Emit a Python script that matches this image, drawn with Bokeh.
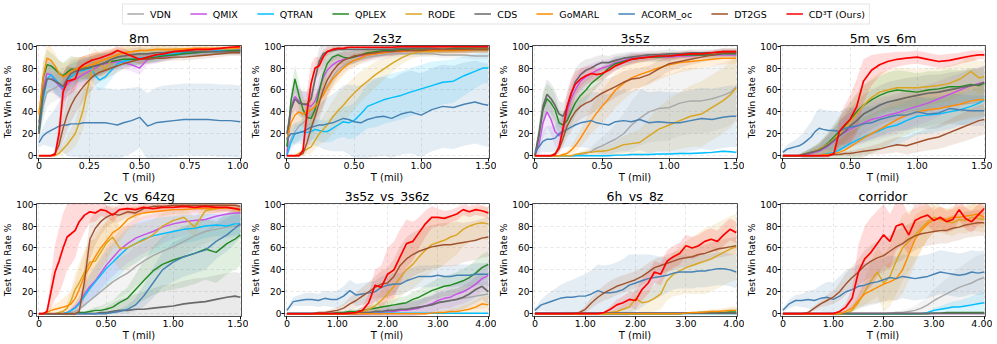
from bokeh.plotting import figure
from bokeh.layouts import column, row
from bokeh.models import Range1d, FixedTicker, Legend, LegendItem
from bokeh.embed import file_html
from bokeh.resources import INLINE

NAMES = ["VDN", "QMIX", "QTRAN", "QPLEX", "RODE", "CDS", "GoMARL", "ACORM_oc", "DT2GS", "CD³T (Ours)"]
COLORS = ["#a9a9a9", "#c953e8", "#00bfff", "#228b22", "#daa520", "#696969", "#ff8c00", "#4682b4", "#a0522d", "#ff0000"]
FONT = "DejaVu Sans"

# ---------------- 8m ----------------
X_8M = [0, .02, .04, .06, .08, .10, .12, .14, .16, .18, .20, .22, .24, .26, .28, .30, .33, .36, .39, .42,
        .46, .50, .54, .58, .62, .67, .72, .78, .84, .90, .95, 1.0]
M_8M = {
    "VDN": [20, 45, 58, 60, 62, 64, 68, 70, 72, 74, 76, 77, 79, 80, 82, 84, 86, 87, 88, 89, 90, 90, 91, 92, 93, 94, 94, 95, 95, 96, 96, 96],
    "QMIX": [30, 60, 75, 74, 68, 64, 60, 65, 68, 70, 72, 74, 76, 78, 80, 82, 84, 85, 86, 85, 83, 80, 88, 89, 90, 92, 93, 94, 95, 96, 96, 97],
    "QTRAN": [22, 50, 70, 74, 70, 66, 62, 68, 72, 75, 77, 78, 79, 80, 73, 69, 72, 78, 84, 86, 88, 89, 90, 91, 92, 93, 94, 95, 95, 96, 96, 96],
    "QPLEX": [24, 70, 83, 82, 79, 75, 73, 76, 79, 79, 80, 80, 80, 81, 82, 83, 85, 86, 87, 88, 88, 88, 89, 90, 91, 92, 93, 94, 95, 95, 96, 96],
    "RODE": [0, 0, 0, 0, 0, 2, 6, 10, 15, 20, 30, 42, 60, 76, 86, 84, 79, 88, 92, 94, 95, 96, 96, 97, 97, 97, 97, 97, 97, 97.5, 97.5, 98],
    "CDS": [20, 55, 70, 70, 68, 66, 63, 70, 75, 77, 78, 79, 80, 81, 82, 83, 85, 88, 90, 91, 92, 93, 93, 94, 94, 95, 95, 95, 95, 95, 95, 95],
    "GoMARL": [38, 70, 89, 87, 82, 75, 72, 74, 77, 79, 80, 81, 82, 83, 84, 86, 88, 90, 92, 94, 95, 96, 96, 97, 97, 97, 97.5, 98, 98, 98, 98.5, 98.5],
    "ACORM_oc": [12, 18, 21, 23, 25, 27, 28, 28, 29, 29, 29, 30, 30, 30, 30, 30, 30, 29, 28, 30, 32, 35, 27, 30, 31, 32, 33, 33, 33, 32, 32, 31],
    "DT2GS": [0, 0, 0, 0, 2, 10, 25, 37, 46, 53, 58, 63, 67, 71, 74, 76, 78, 80, 82, 84, 86, 88, 88, 89, 89, 90, 90, 91, 92, 93, 94, 94],
    "CD³T (Ours)": [0, 0, 0, 0, 1, 20, 58, 68, 69, 70, 80, 83, 85, 87, 88, 89, 91, 93, 96, 94, 91, 88, 90, 92, 93, 95, 96, 97, 97, 98, 99, 99.5],
}
SD8_A = [8, 15, 14, 12, 12, 12, 12, 12, 12, 11, 10, 10, 10, 10, 10, 10, 9, 8, 7, 6, 6, 6, 5, 5, 4, 4, 3, 3, 3, 3, 3, 3]
SD8_RODE = [0, 0, 0, 0, 0, 2, 5, 8, 10, 12, 15, 18, 20, 18, 12, 10, 10, 8, 6, 5, 4, 3, 3, 3, 3, 2, 2, 2, 2, 2, 2, 2]
SD8_DT = [0, 0, 0, 0, 2, 8, 12, 14, 15, 15, 14, 13, 12, 11, 10, 9, 8, 7, 6, 5, 5, 4, 4, 4, 3, 3, 3, 3, 3, 3, 3, 3]
SD8_RED = [0, 0, 0, 0, 2, 15, 18, 14, 12, 10, 9, 8, 7, 6, 6, 5, 5, 4, 4, 4, 4, 5, 4, 3, 3, 3, 2, 2, 2, 1, 1, 1]
SD8_AC = [5, 8, 12, 15, 18, 22, 25, 28, 30, 30, 31, 32, 33, 33, 33, 32, 32, 32, 32, 31, 30, 28, 30, 32, 33, 33, 33, 33, 33, 33, 33, 33]
S_8M = {"VDN": SD8_A, "QMIX": SD8_A, "QTRAN": SD8_A, "QPLEX": SD8_A, "RODE": SD8_RODE, "CDS": SD8_A,
        "GoMARL": SD8_A, "ACORM_oc": SD8_AC, "DT2GS": SD8_DT, "CD³T (Ours)": SD8_RED}

# ---------------- shared x for 1.5 mil panels ----------------
X_15 = [0, .03, .06, .09, .12, .15, .18, .21, .24, .27, .30, .34, .38, .42, .46, .50, .55, .60, .66, .72,
        .78, .85, .92, 1.0, 1.08, 1.16, 1.24, 1.32, 1.40, 1.46, 1.5]

# ---------------- 2s3z ----------------
M_2S3Z = {
    "VDN": [5, 15, 22, 27, 30, 33, 38, 44, 50, 58, 64, 72, 78, 82, 85, 87, 89, 90, 91, 92, 93, 93, 93, 93, 93, 92, 92, 92, 91, 91, 91],
    "QMIX": [0, 45, 54, 50, 47, 46, 45, 50, 61, 71, 78, 83, 86, 88, 89, 90, 91, 92, 93, 94, 95, 95, 96, 96, 97, 97, 97, 97, 98, 98, 98],
    "QTRAN": [0, 12, 20, 21, 22, 21, 22, 24, 23, 22, 22, 25, 28, 31, 30, 32, 38, 45, 48, 51, 53, 55, 58, 61, 64, 67, 68, 73, 77, 80, 80],
    "QPLEX": [8, 50, 70, 55, 42, 35, 34, 42, 58, 74, 84, 90, 92, 90, 89, 90, 92, 94, 95, 96, 96, 97, 97, 97, 97, 97, 98, 98, 98, 98, 98],
    "RODE": [0, 0, 0, 2, 4, 6, 8, 14, 20, 24, 28, 35, 41, 46, 52, 57, 63, 68, 74, 79, 84, 89, 93, 95, 95, 96, 96, 97, 97, 97, 97],
    "CDS": [20, 42, 52, 48, 47, 47, 52, 70, 86, 93, 95, 96, 97, 97, 97, 97, 97, 97, 97, 97, 97, 98, 98, 98, 98, 97, 97, 97, 97, 97, 97],
    "GoMARL": [15, 30, 37, 40, 38, 40, 42, 45, 50, 55, 62, 70, 75, 80, 84, 87, 89, 92, 93, 94, 95, 95, 96, 96, 96, 96, 96, 96, 97, 97, 97],
    "ACORM_oc": [15, 20, 20, 21, 22, 24, 26, 27, 28, 28, 29, 30, 32, 34, 33, 31, 30, 33, 35, 36, 34, 38, 40, 37, 42, 45, 44, 47, 49, 47, 46],
    "DT2GS": [0, 0, 0, 0, 2, 12, 25, 36, 48, 60, 69, 77, 83, 87, 89, 91, 92, 93, 94, 95, 95, 96, 96, 96, 97, 97, 97, 97, 97, 97, 97],
    "CD³T (Ours)": [0, 0, 0, 0, 5, 40, 66, 80, 82, 90, 95, 97, 98, 98, 99, 99, 99, 99, 99, 99, 99, 99.5, 99.5, 99.5, 99.5, 99.5, 99.5, 99.5, 99.5, 99.5, 99.5],
}
SD_2S3Z_A = [5, 10, 12, 12, 12, 12, 12, 12, 12, 12, 10, 9, 8, 7, 6, 6, 5, 5, 4, 4, 4, 3, 3, 3, 3, 3, 3, 3, 3, 3, 3]
SD_2S3Z_RODE = [0, 0, 0, 2, 4, 5, 6, 8, 10, 12, 14, 15, 16, 16, 15, 15, 14, 13, 12, 10, 8, 6, 5, 4, 4, 3, 3, 3, 3, 3, 3]
SD_2S3Z_QT = [0, 5, 8, 8, 8, 8, 8, 9, 10, 10, 10, 12, 12, 14, 15, 16, 18, 20, 22, 22, 22, 22, 22, 22, 22, 20, 20, 18, 16, 14, 14]
SD_2S3Z_AC = [5, 8, 10, 10, 12, 14, 16, 18, 20, 22, 24, 26, 28, 30, 32, 33, 34, 35, 36, 36, 36, 37, 38, 38, 38, 38, 38, 38, 38, 38, 38]
SD_2S3Z_RED = [0, 0, 0, 0, 3, 20, 18, 10, 8, 6, 4, 3, 2, 2, 2, 1, 1, 1, 1, 1, 1, 1, 1, 1, 1, 1, 1, 1, 1, 1, 1]
SD_2S3Z_DT = [0, 0, 0, 0, 2, 8, 12, 15, 16, 16, 14, 12, 10, 8, 7, 6, 5, 5, 4, 4, 4, 3, 3, 3, 3, 3, 3, 3, 3, 3, 3]
S_2S3Z = {"VDN": SD_2S3Z_A, "QMIX": SD_2S3Z_A, "QTRAN": SD_2S3Z_QT, "QPLEX": SD_2S3Z_A, "RODE": SD_2S3Z_RODE,
          "CDS": SD_2S3Z_A, "GoMARL": SD_2S3Z_A, "ACORM_oc": SD_2S3Z_AC, "DT2GS": SD_2S3Z_DT, "CD³T (Ours)": SD_2S3Z_RED}

# ---------------- 3s5z ----------------
M_3S5Z = {
    "VDN": [0, 0, 0, 0, 0, 0, 0, 0, 0, 0, 0, 1, 2, 4, 7, 9, 12, 15, 20, 28, 34, 40, 43, 44, 48, 50, 50, 52, 55, 58, 63],
    "QMIX": [0, 10, 30, 40, 33, 22, 18, 24, 40, 52, 60, 68, 72, 75, 78, 80, 82, 85, 87, 89, 90, 90, 90, 90, 91, 91, 92, 92, 92, 92, 92],
    "QTRAN": [0, 0, 0, 0, 0, 0, 0, 0, 0, 0, 0, 0, 0, 0, 0, 0, 0, 0.5, 0.5, 1, 1, 1, 1.5, 1.5, 2, 2, 2.5, 3, 4, 3.5, 3],
    "QPLEX": [0, 18, 42, 52, 48, 42, 30, 28, 32, 40, 48, 55, 60, 66, 70, 74, 80, 84, 86, 88, 89, 90, 90, 91, 92, 92, 92, 92, 93, 93, 93],
    "RODE": [0, 0, 0, 0, 0, 0, 0, 0, 0, 0, 1, 2, 3, 3, 4, 4, 5, 7, 10, 11, 12, 18, 24, 28, 32, 36, 38, 44, 50, 56, 62],
    "CDS": [0, 20, 45, 56, 52, 46, 38, 36, 44, 56, 67, 74, 78, 80, 83, 85, 85, 87, 89, 90, 91, 92, 92, 93, 93, 94, 94, 94, 95, 95, 95],
    "GoMARL": [0, 0, 0, 0, 0, 0, 0, 1, 2, 5, 9, 16, 24, 32, 39, 45, 52, 60, 66, 71, 74, 77, 80, 83, 85, 86, 87, 88, 89, 89, 89],
    "ACORM_oc": [3, 8, 13, 15, 15, 16, 20, 22, 24, 26, 28, 30, 31, 32, 30, 29, 28, 31, 32, 31, 33, 30, 31, 30, 30, 32, 34, 33, 35, 36, 36],
    "DT2GS": [0, 0, 0, 0, 0, 2, 6, 16, 27, 34, 40, 45, 48, 50, 54, 57, 60, 63, 67, 70, 71, 74, 79, 84, 86, 88, 90, 92, 94, 94, 94],
    "CD³T (Ours)": [0, 0, 0, 0, 0, 1, 8, 25, 45, 57, 65, 70, 73, 75, 74, 75, 78, 82, 85, 88, 89, 90, 91, 91, 92, 93, 93, 94, 95, 95, 95],
}
SD_3S5Z_A = [2, 10, 14, 14, 14, 14, 12, 12, 12, 12, 12, 11, 10, 9, 8, 7, 6, 6, 5, 5, 4, 4, 4, 4, 3, 3, 3, 3, 3, 3, 3]
SD_3S5Z_RED = [0, 0, 0, 0, 0, 1, 5, 12, 14, 14, 12, 10, 8, 7, 6, 6, 5, 5, 4, 4, 4, 3, 3, 3, 3, 3, 2, 2, 2, 2, 2]
SD_3S5Z_DT = [0, 0, 0, 0, 0, 2, 4, 8, 10, 12, 12, 12, 12, 12, 12, 12, 11, 10, 10, 9, 9, 8, 8, 7, 6, 5, 5, 4, 4, 4, 4]
SD_3S5Z_GO = [0, 0, 0, 0, 0, 0, 0, 1, 2, 4, 6, 8, 10, 12, 14, 15, 16, 16, 15, 14, 13, 12, 11, 10, 9, 8, 7, 6, 6, 5, 5]
SD_3S5Z_VDN = [0, 0, 0, 0, 0, 0, 0, 0, 0, 0, 0, 1, 2, 4, 6, 8, 10, 14, 18, 22, 25, 28, 30, 30, 30, 30, 30, 30, 30, 30, 30]
SD_3S5Z_RODE = [0, 0, 0, 0, 0, 0, 0, 0, 0, 0, 1, 2, 3, 3, 4, 4, 5, 6, 8, 10, 12, 16, 20, 24, 26, 28, 30, 30, 30, 30, 30]
SD_3S5Z_AC = [2, 6, 10, 12, 12, 12, 14, 15, 16, 18, 20, 22, 24, 26, 28, 28, 28, 28, 28, 28, 28, 28, 28, 28, 28, 28, 28, 28, 28, 28, 28]
SD_3S5Z_QT = [0, 0, 0, 0, 0, 0, 0, 0, 0, 0, 0, 0, 0, 0, 0, 1, 1, 1, 1, 1, 1, 1, 1, 1, 1, 1, 1, 1, 1, 1, 1]
S_3S5Z = {"VDN": SD_3S5Z_VDN, "QMIX": SD_3S5Z_A, "QTRAN": SD_3S5Z_QT, "QPLEX": SD_3S5Z_A, "RODE": SD_3S5Z_RODE,
          "CDS": SD_3S5Z_A, "GoMARL": SD_3S5Z_GO, "ACORM_oc": SD_3S5Z_AC, "DT2GS": SD_3S5Z_DT, "CD³T (Ours)": SD_3S5Z_RED}

# ---------------- 5m_vs_6m ----------------
M_5M6M = {
    "VDN": [0, 0, 0, 0, 0, 0, 1, 2, 3, 4, 6, 8, 12, 16, 20, 23, 26, 29, 31, 33, 35, 37, 40, 42, 44, 45, 46, 47, 48, 49, 50],
    "QMIX": [0, 0, 0, 0, 0, 0, 1, 2, 3, 4, 6, 9, 13, 18, 21, 24, 27, 30, 33, 35, 37, 39, 42, 45, 48, 52, 56, 60, 64, 66, 67],
    "QTRAN": [0, 0, 0, 0, 0, 0, 0, 0, 0, 0, 1, 2, 3, 5, 8, 11, 14, 17, 20, 23, 26, 28, 32, 36, 37, 38, 40, 42, 45, 48, 51],
    "QPLEX": [0, 0, 0, 0, 0, 1, 2, 3, 4, 6, 8, 12, 17, 22, 27, 33, 40, 46, 51, 55, 58, 60, 59, 58, 60, 61, 63, 63, 65, 64, 66],
    "RODE": [0, 0, 0, 0, 0, 1, 2, 3, 5, 6, 8, 11, 15, 20, 25, 30, 38, 46, 53, 58, 60, 62, 62, 62, 63, 64, 66, 70, 77, 71, 72],
    "CDS": [0, 0, 0, 0, 0, 1, 2, 3, 4, 5, 7, 10, 14, 18, 22, 27, 32, 38, 42, 46, 49, 51, 53, 55, 57, 58, 60, 62, 64, 65, 67],
    "GoMARL": [0, 0, 0, 0, 0, 0, 0, 0, 0, 0, 1, 1, 2, 3, 5, 8, 12, 16, 20, 24, 28, 33, 37, 40, 42, 43, 45, 47, 50, 51, 51],
    "ACORM_oc": [3, 6, 7, 8, 9, 11, 14, 17, 22, 25, 24, 23, 23, 22, 25, 26, 27, 29, 30, 33, 35, 37, 37, 40, 38, 39, 43, 42, 41, 41, 41],
    "DT2GS": [0, 0, 0, 0, 0, 0, 0, 0, 0, 0, 0, 0, 1, 1, 2, 2, 3, 4, 5, 6, 8, 10, 9, 12, 15, 17, 21, 25, 29, 32, 33],
    "CD³T (Ours)": [0, 0, 0, 0, 0, 0, 0, 0, 0, 0, 0, 0, 2, 22, 28, 33, 45, 68, 78, 83, 86, 88, 89, 90, 88, 86, 87, 89, 91, 92, 92],
}
SD_5M_A = [1, 1, 1, 1, 1, 2, 3, 4, 5, 6, 8, 10, 12, 14, 15, 16, 17, 18, 18, 18, 18, 18, 18, 17, 17, 16, 16, 15, 15, 15, 15]
SD_5M_RED = [0, 0, 0, 0, 0, 0, 0, 0, 0, 0, 0, 0, 2, 12, 18, 22, 25, 20, 14, 10, 8, 7, 6, 6, 6, 6, 6, 5, 5, 4, 4]
SD_5M_AC = [2, 4, 5, 6, 8, 10, 12, 14, 16, 18, 18, 18, 18, 18, 18, 18, 16, 16, 15, 15, 14, 14, 14, 14, 14, 14, 14, 14, 14, 14, 14]
SD_5M_DT = [0, 0, 0, 0, 0, 0, 0, 0, 0, 0, 0, 0, 1, 1, 2, 2, 3, 3, 4, 5, 6, 7, 8, 9, 10, 11, 12, 13, 14, 14, 14]
S_5M6M = {"VDN": SD_5M_A, "QMIX": SD_5M_A, "QTRAN": SD_5M_A, "QPLEX": SD_5M_A, "RODE": SD_5M_A,
          "CDS": SD_5M_A, "GoMARL": SD_5M_A, "ACORM_oc": SD_5M_AC, "DT2GS": SD_5M_DT, "CD³T (Ours)": SD_5M_RED}

# ---------------- 2c_vs_64zg ----------------
M_2C = {
    "VDN": [0, 0, 0, 0, 0, 0, 0, 0, 1, 2, 4, 8, 12, 16, 20, 24, 29, 33, 37, 43, 48, 53, 57, 61, 66, 71, 75, 77, 79, 80, 80],
    "QMIX": [0, 0, 0, 0, 0, 0, 0, 1, 3, 6, 10, 18, 25, 30, 37, 44, 51, 58, 64, 69, 72, 75, 79, 82, 84, 85, 86, 89, 91, 92, 92],
    "QTRAN": [0, 0, 0, 0, 0, 0, 0, 1, 3, 5, 9, 16, 23, 29, 35, 41, 47, 53, 60, 64, 68, 71, 73, 75, 77, 78, 80, 81, 80, 82, 82],
    "QPLEX": [0, 0, 0, 0, 0, 0, 0, 0, 0, 0, 1, 1, 2, 3, 3, 4, 6, 10, 14, 22, 30, 39, 45, 49, 52, 55, 59, 56, 64, 68, 72],
    "RODE": [0, 0, 0, 0, 0, 1, 2, 5, 12, 22, 28, 38, 47, 48, 56, 64, 70, 60, 60, 64, 67, 72, 80, 85, 88, 79, 94, 96, 97, 96, 95],
    "CDS": [0, 0, 0, 0, 0, 0, 0, 0, 0, 0, 0, 0, 0, 0, 1, 1, 2, 3, 3, 4, 4, 5, 6, 7, 9, 10, 11, 13, 15, 16, 15],
    "GoMARL": [0, 0, 1, 3, 4, 5, 6, 7, 9, 14, 22, 35, 43, 52, 60, 66, 74, 78, 86, 90, 92, 93, 94, 95, 95, 96, 96, 96, 97, 96, 94],
    "ACORM_oc": [0, 0, 0, 0, 0, 0, 0, 0, 0, 0, 0, 0, 0, 0, 0, 0, 1, 2, 4, 8, 16, 28, 40, 47, 52, 55, 58, 66, 72, 78, 82],
    "DT2GS": [0, 0, 0, 0, 0, 0, 0, 0, 0, 0, 2, 30, 68, 78, 84, 88, 91, 90, 93, 92, 96, 98, 98, 99, 99, 99, 99, 99, 99, 99, 98],
    "CD³T (Ours)": [0, 0, 2, 20, 38, 48, 60, 70, 73, 76, 84, 90, 93, 92, 95, 94, 90, 95, 96, 95, 97, 96, 97, 97, 98, 97, 98, 97, 97, 96, 95],
}
SD_2C_RED = [0, 0, 2, 15, 25, 30, 32, 30, 28, 25, 20, 15, 10, 8, 6, 6, 6, 5, 5, 5, 4, 4, 4, 3, 3, 3, 3, 3, 3, 3, 3]
SD_2C_DT = [0, 0, 0, 0, 0, 0, 0, 0, 0, 0, 2, 15, 18, 15, 12, 10, 8, 6, 5, 5, 4, 3, 3, 2, 2, 2, 2, 2, 2, 2, 2]
SD_2C_GO = [0, 0, 1, 3, 5, 6, 8, 10, 12, 16, 20, 22, 22, 22, 20, 18, 15, 12, 10, 8, 6, 5, 5, 4, 4, 4, 4, 4, 4, 4, 4]
SD_2C_RODE = [0, 0, 0, 0, 0, 1, 2, 5, 10, 15, 18, 20, 20, 20, 20, 20, 20, 20, 20, 18, 16, 14, 12, 10, 10, 9, 5, 4, 4, 4, 4]
SD_2C_A = [0, 0, 0, 0, 0, 0, 0, 1, 2, 4, 6, 10, 12, 14, 15, 16, 17, 18, 18, 18, 17, 16, 15, 14, 13, 12, 11, 10, 10, 10, 10]
SD_2C_QP = [0, 0, 0, 0, 0, 0, 0, 0, 0, 0, 1, 1, 2, 3, 4, 5, 6, 8, 10, 14, 18, 22, 25, 27, 28, 28, 28, 28, 28, 28, 28]
SD_2C_AC = [0, 0, 0, 0, 0, 0, 0, 0, 0, 0, 0, 0, 0, 0, 0, 0, 1, 2, 4, 6, 10, 14, 16, 18, 18, 18, 18, 16, 15, 14, 12]
SD_2C_CDS = [0, 0, 0, 0, 0, 0, 0, 0, 0, 0, 0, 0, 1, 2, 3, 5, 8, 10, 12, 14, 16, 18, 20, 20, 21, 22, 22, 22, 22, 22, 22]
S_2C = {"VDN": SD_2C_A, "QMIX": SD_2C_A, "QTRAN": SD_2C_A, "QPLEX": SD_2C_QP, "RODE": SD_2C_RODE,
        "CDS": SD_2C_CDS, "GoMARL": SD_2C_GO, "ACORM_oc": SD_2C_AC, "DT2GS": SD_2C_DT, "CD³T (Ours)": SD_2C_RED}

# ---------------- shared x for 4 mil panels ----------------
X_4 = [0, 0.125, 0.25, 0.375, 0.5, 0.625, 0.75, 0.875, 1.0, 1.125, 1.25, 1.375, 1.5, 1.625, 1.75, 1.875, 2.0,
       2.125, 2.25, 2.375, 2.5, 2.625, 2.75, 2.875, 3.0, 3.125, 3.25, 3.375, 3.5, 3.625, 3.75, 3.875, 4.0]

# ---------------- 3s5z_vs_3s6z ----------------
M_3S6Z = {
    "VDN": [0] * 16 + [1, 2, 3, 4, 5, 6, 7, 8, 10, 11, 12, 13, 14, 15, 16, 17, 18],
    "QMIX": [0] * 14 + [1, 1, 2, 2, 3, 3, 4, 5, 7, 9, 12, 14, 15, 18, 20, 23, 27, 32, 35],
    "QTRAN": [0.3] * 33,
    "QPLEX": [0, 0, 0, 0, 0, 0, 0, 0, 1, 1, 2, 2, 3, 4, 5, 6, 7, 8, 9, 10, 13, 15, 18, 21, 23, 25, 26, 28, 30, 33, 37, 42, 45],
    "RODE": [0] * 11 + [1, 2, 4, 7, 12, 18, 25, 33, 40, 45, 52, 58, 63, 65, 67, 70, 72, 77, 80, 82, 83, 82],
    "CDS": [0] * 12 + [1, 1, 2, 2, 3, 3, 4, 4, 5, 6, 7, 8, 10, 11, 12, 13, 15, 18, 22, 25, 20],
    "GoMARL": [0] * 23 + [0.5, 1, 1, 2, 2, 3, 4, 6, 9, 8],
    "ACORM_oc": [3, 11, 12, 13, 13, 12, 14, 13, 13, 16, 21, 17, 18, 19, 20, 24, 26, 27, 27, 30, 32, 34, 34, 34, 35, 34, 34, 35, 35, 35, 36, 36, 36],
    "DT2GS": [0, 0, 0, 0, 0, 1, 1, 2, 3, 5, 9, 12, 16, 20, 24, 27, 28, 34, 44, 50, 54, 57, 59, 61, 62, 63, 63, 64, 65, 66, 67, 69, 70],
    "CD³T (Ours)": [0] * 10 + [0.5, 1, 3, 10, 26, 24, 36, 40, 52, 64, 66, 74, 82, 88, 88, 87, 89, 91, 95, 93, 95, 94, 92],
}
SD_36_RED = [0] * 10 + [1, 2, 4, 8, 14, 20, 24, 26, 25, 22, 18, 14, 12, 10, 8, 7, 6, 6, 5, 5, 5, 5, 5]
SD_36_RODE = [0] * 11 + [1, 2, 4, 6, 8, 12, 15, 18, 20, 22, 24, 25, 25, 24, 22, 20, 18, 16, 15, 15, 15, 15]
SD_36_DT = [0, 0, 0, 0, 0, 1, 1, 2, 3, 4, 6, 7, 8, 9, 10, 12, 14, 16, 18, 20, 20, 20, 20, 20, 20, 20, 20, 20, 18, 18, 18, 18, 18]
SD_36_AC = [2, 4, 5, 6, 6, 6, 7, 7, 8, 9] + [10] * 23
SD_36_A = [0] * 8 + [1, 1, 2, 2, 3, 3, 4, 4, 5, 5, 6, 6, 7, 7, 8, 8, 9, 9, 10, 10, 11, 11, 12, 12, 12]
SD_36_GO = [0] * 23 + [1, 1, 2, 2, 3, 4, 5, 6, 7, 8]
SD_36_QT = [0.5] * 33
S_3S6Z = {"VDN": SD_36_A, "QMIX": SD_36_A, "QTRAN": SD_36_QT, "QPLEX": SD_36_A, "RODE": SD_36_RODE,
          "CDS": SD_36_A, "GoMARL": SD_36_GO, "ACORM_oc": SD_36_AC, "DT2GS": SD_36_DT, "CD³T (Ours)": SD_36_RED}

# ---------------- 6h_vs_8z ----------------
M_6H = {
    "VDN": [0.2] * 33,
    "QMIX": [0.3] * 33,
    "QTRAN": [0.2] * 33,
    "QPLEX": [0] * 24 + [0.5, 0.5, 1, 1, 1, 1, 1, 1.5, 1.5],
    "RODE": [0] * 12 + [1, 2, 4, 6, 14, 10, 11, 14, 18, 30, 36, 39, 42, 44, 46, 48, 50, 53, 56, 59, 61],
    "CDS": [0.4] * 33,
    "GoMARL": [0] * 24 + [0.5, 1, 1, 1.5, 2, 2, 2.5, 3, 3],
    "ACORM_oc": [3, 8, 10, 12, 14, 15, 15, 16, 16, 18, 21, 19, 19, 20, 22, 26, 28, 30, 32, 33, 34, 35, 37, 38, 38, 38, 39, 39, 40, 41, 41, 40, 38],
    "DT2GS": [0, 0, 0, 0, 0, 0, 0, 1, 4, 10, 15, 19, 22, 25, 27, 29, 31, 34, 38, 42, 44, 46, 48, 50, 51, 52, 54, 55, 57, 59, 60, 61, 62],
    "CD³T (Ours)": [0] * 11 + [1, 4, 8, 10, 13, 12, 22, 28, 38, 36, 48, 52, 55, 62, 60, 62, 66, 68, 66, 72, 77, 74],
}
SD_6H_RED = [0] * 11 + [1, 3, 5, 6, 7, 8, 10, 10, 10, 10, 10, 10, 10, 10, 10, 10, 10, 10, 10, 10, 10, 10]
SD_6H_DT = [0] * 7 + [1, 3, 5, 6, 7] + [8] * 21
SD_6H_RODE = [0] * 12 + [1, 2, 4, 6, 10, 10, 10, 12, 14, 18, 20, 22, 24, 26, 28, 30, 30, 30, 30, 30, 30]
SD_6H_AC = [2, 5, 8, 10, 12, 14, 16, 18, 20, 22, 24, 25, 26, 27, 28, 28, 26, 24, 22, 20, 18, 16, 15, 15, 15, 15, 15, 15, 15, 15, 15, 15, 15]
SD_6H_GO = [0] * 24 + [0.5, 1, 1, 1.5, 2, 2, 2.5, 3, 3]
SD_6H_Z = [0.5] * 33
S_6H = {"VDN": SD_6H_Z, "QMIX": SD_6H_Z, "QTRAN": SD_6H_Z, "QPLEX": SD_6H_GO, "RODE": SD_6H_RODE,
        "CDS": SD_6H_Z, "GoMARL": SD_6H_GO, "ACORM_oc": SD_6H_AC, "DT2GS": SD_6H_DT, "CD³T (Ours)": SD_6H_RED}

# ---------------- corridor ----------------
M_CO = {
    "VDN": [0] * 17 + [0.5, 1, 1, 2, 3, 5, 8, 12, 15, 18, 21, 24, 26, 28, 31, 33],
    "QMIX": [0.2] * 33,
    "QTRAN": [0] * 23 + [1, 3, 4, 5, 6, 6, 7, 8, 9, 10],
    "QPLEX": [0] * 24 + [0.5, 0.5, 1, 1, 1, 1, 1, 1, 1],
    "RODE": [0] * 11 + [3, 10, 20, 30, 38, 28, 34, 48, 60, 66, 72, 78, 84, 88, 86, 84, 83, 86, 85, 88, 87, 86],
    "CDS": [0.3] * 33,
    "GoMARL": [0] * 10 + [2, 5, 12, 18, 21, 24, 27, 29, 32, 40, 54, 68, 76, 82, 86, 87, 86, 88, 88, 89, 90, 91, 88],
    "ACORM_oc": [3, 9, 12, 12, 13, 12, 14, 15, 13, 16, 20, 22, 25, 26, 28, 29, 31, 33, 32, 34, 33, 32, 33, 34, 36, 38, 37, 36, 35, 36, 38, 37, 38],
    "DT2GS": [0, 0, 0, 0, 1, 5, 9, 12, 15, 20, 27, 33, 38, 44, 48, 51, 53, 57, 61, 64, 68, 71, 73, 74, 75, 76, 76, 78, 79, 81, 82, 83, 83],
    "CD³T (Ours)": [0] * 9 + [2, 6, 14, 38, 50, 56, 64, 72, 66, 80, 82, 72, 85, 88, 90, 85, 88, 84, 86, 95, 87, 84, 90, 96],
}
SD_CO_RED = [0] * 9 + [1, 4, 10, 25, 30, 32, 30, 28, 25, 22, 20, 18, 15, 12, 10, 10, 10, 10, 10, 10, 10, 10, 10, 10]
SD_CO_DT = [0, 0, 0, 0, 1, 2, 3, 5, 6, 8, 10, 10, 12, 14, 15, 15, 15, 15, 15, 15, 14, 13, 12, 12, 12, 12, 12, 12, 12, 12, 12, 12, 12]
SD_CO_GO = [0] * 10 + [1, 3, 6, 10, 12, 14, 16, 18, 20, 22, 24, 22, 18, 14, 12, 10, 10, 10, 10, 10, 10, 10, 10]
SD_CO_RODE = [0] * 11 + [2, 6, 12, 18, 22, 26, 28, 30, 30, 28, 24, 20, 16, 14, 12, 12, 12, 12, 12, 12, 12, 12]
SD_CO_AC = [2, 4, 5, 6, 8, 10, 12, 14, 16, 18] + [20] * 23
SD_CO_VDN = [0] * 17 + [1, 1, 2, 3, 4, 6, 8, 10, 12, 14, 16, 18, 20, 22, 22, 22]
SD_CO_QT = [0] * 23 + [1, 2, 3, 4, 5, 6, 7, 8, 9, 10]
SD_CO_Z = [0.5] * 33
S_CO = {"VDN": SD_CO_VDN, "QMIX": SD_CO_Z, "QTRAN": SD_CO_QT, "QPLEX": SD_CO_Z, "RODE": SD_CO_RODE,
        "CDS": SD_CO_Z, "GoMARL": SD_CO_GO, "ACORM_oc": SD_CO_AC, "DT2GS": SD_CO_DT, "CD³T (Ours)": SD_CO_RED}

TICKS_1 = [0, 0.25, 0.5, 0.75, 1.0]
LABELS_1 = ["0", "0.25", "0.50", "0.75", "1.00"]
TICKS_15 = [0, 0.5, 1.0, 1.5]
LABELS_15 = ["0", "0.50", "1.00", "1.50"]
TICKS_4 = [0, 1, 2, 3, 4]
LABELS_4 = ["0", "1.00", "2.00", "3.00", "4.00"]
Y_TICKS = [0, 20, 40, 60, 80, 100]

PANELS = [
    ("8m", X_8M, M_8M, S_8M, 1.0, TICKS_1, LABELS_1),
    ("2s3z", X_15, M_2S3Z, S_2S3Z, 1.5, TICKS_15, LABELS_15),
    ("3s5z", X_15, M_3S5Z, S_3S5Z, 1.5, TICKS_15, LABELS_15),
    ("5m_vs_6m", X_15, M_5M6M, S_5M6M, 1.5, TICKS_15, LABELS_15),
    ("2c_vs_64zg", X_15, M_2C, S_2C, 1.5, TICKS_15, LABELS_15),
    ("3s5z_vs_3s6z", X_4, M_3S6Z, S_3S6Z, 4.0, TICKS_4, LABELS_4),
    ("6h_vs_8z", X_4, M_6H, S_6H, 4.0, TICKS_4, LABELS_4),
    ("corridor", X_4, M_CO, S_CO, 4.0, TICKS_4, LABELS_4),
]

W, H = 248, 158


def make_panel(title, xs, means, sds, xmax, ticks, labels):
    p = figure(width=W, height=H, output_backend="svg", toolbar_location=None,
               x_range=Range1d(-0.012 * xmax, 1.006 * xmax), y_range=Range1d(-2.6, 100.6),
               min_border_left=32, min_border_right=7, min_border_top=18, min_border_bottom=26,
               background_fill_color="white", border_fill_color="white")
    p.title.text = title
    p.title.align = "center"
    p.title.text_font = FONT
    p.title.text_font_size = "12.5px"
    p.title.text_font_style = "normal"
    p.title.text_color = "black"
    p.title.standoff = 0
    p.outline_line_color = "#222222"
    p.outline_line_width = 0.8
    for ax in (p.xaxis, p.yaxis):
        ax.axis_line_color = None
        ax.major_tick_line_color = "black"
        ax.major_tick_out = 3
        ax.major_tick_in = 0
        ax.minor_tick_line_color = None
        ax.major_label_text_font = FONT
        ax.major_label_text_color = "black"
        ax.major_label_standoff = 0
        ax.axis_label_text_font = FONT
        ax.axis_label_text_font_style = "normal"
        ax.axis_label_text_color = "black"
        ax.axis_label_standoff = 0
    p.xaxis.major_label_text_font_size = "9.5px"
    p.yaxis.major_label_text_font_size = "9px"
    p.xaxis.ticker = FixedTicker(ticks=ticks)
    p.xaxis.major_label_overrides = {t: l for t, l in zip(ticks, labels)}
    p.xaxis.axis_label = "T (mil)"
    p.xaxis.axis_label_text_font_size = "10px"
    p.yaxis.ticker = FixedTicker(ticks=Y_TICKS)
    p.yaxis.axis_label = "Test Win Rate %"
    p.yaxis.axis_label_text_font_size = "9px"
    p.grid.grid_line_color = "#b8b8b8"
    p.grid.grid_line_alpha = 0.6
    p.grid.grid_line_dash = "3 3"
    p.grid.grid_line_width = 0.6
    for name, color in zip(NAMES, COLORS):
        ys = means[name]
        sd = sds[name]
        lo = [m - s for m, s in zip(ys, sd)]
        hi = [m + s for m, s in zip(ys, sd)]
        p.varea(x=xs, y1=lo, y2=hi, fill_color=color, fill_alpha=0.14)
    for name, color in zip(NAMES, COLORS):
        lw = 1.7 if name.startswith("CD") else 1.45
        p.line(xs, means[name], line_color=color, line_width=lw)
    return p


figs = [make_panel(*pp) for pp in PANELS]

lf = figure(width=992, height=27, output_backend="svg", toolbar_location=None,
            x_range=Range1d(0, 1), y_range=Range1d(0, 1),
            x_axis_location=None, y_axis_location=None, min_border=0,
            outline_line_color=None)
lf.grid.visible = False
items = []
for name, color in zip(NAMES, COLORS):
    r = lf.line(x=[5, 6], y=[5, 5], line_color=color, line_width=1.5)
    items.append(LegendItem(label=name, renderers=[r]))
leg = Legend(items=items, orientation="horizontal", location="center",
             label_text_font=FONT, label_text_font_size="9.5px", label_text_color="black",
             glyph_width=17, glyph_height=10, label_standoff=6, spacing=19,
             padding=4, margin=0, border_line_color="#cccccc", border_line_width=1,
             background_fill_color="white", label_height=10)
lf.add_layout(leg)

layout = column(lf, row(*figs[:4]), row(*figs[4:]))

with open("out.html", "w") as f:
    f.write(file_html(layout, INLINE))
